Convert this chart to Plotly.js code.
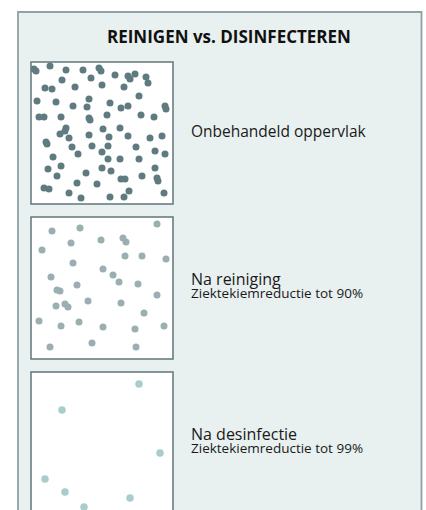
<!DOCTYPE html>
<html>
<head>
<meta charset="utf-8">
<script src="https://cdn.plot.ly/plotly-3.0.1.min.js"></script>
<style>html,body{margin:0;padding:0;background:#fff;}#chart{width:426px;height:510px;}</style>
</head>
<body>
<div id="chart"></div>
<script>
// ---- data ----
var chartTitle = "REINIGEN vs. DISINFECTEREN";
var panelTitles = ["Onbehandeld oppervlak", "Na reiniging", "Na desinfectie"];
var panelSubtitles = ["", "Ziektekiemreductie tot 90%", "Ziektekiemreductie tot 99%"];

// germ positions inside each square (0..142 units, y from top)
var untreatedX = [3,5,19,35,52,68,70,84,97,99,104,115,117,31,60,14,21,44,71,93,108,6,25,58,42,56,79,90,97,134,135,8,13,30,58,59,76,110,123,35,34,29,38,58,72,78,89,97,119,131,15,16,41,61,77,71,105,124,134,47,22,77,89,108,17,30,71,80,124,26,55,90,94,111,126,127,46,66,13,18,38,98,93,133,50,79];
var untreatedY = [7,9,4,8,8,6,9,13,14,17,12,15,21,18,16,26,27,25,23,25,34,39,40,37,44,45,41,46,44,44,47,55,55,55,56,58,53,53,55,66,69,72,76,73,67,75,66,74,76,74,80,82,85,84,84,90,85,89,92,92,95,97,97,97,107,104,106,109,106,114,111,117,117,114,116,119,121,122,126,127,131,129,135,131,136,135];

var cleanedX = [21,49,126,11,40,70,92,95,94,111,135,42,72,82,20,88,107,46,26,29,126,57,90,25,34,37,113,8,48,30,72,104,133,61,19,105];
var cleanedY = [14,11,7,33,26,23,21,25,39,39,42,46,52,58,60,65,67,68,73,74,78,84,86,89,87,90,96,104,105,109,110,112,109,126,130,130];

var disinfectedX = [108,31,129,14,34,99,53];
var disinfectedY = [12,38,81,107,120,126,135];

(function(){
  var W = 426, H = 510;
  function X(px){ return px / W; }
  function Y(py){ return 1 - py / H; }

  var boxLeft = 31, boxRight = 173, boxSize = 142;
  var boxTops = [62, 217, 372];

  var dotColors = ["#5f7b80", "#9bafb2", "#a7cdcd"];
  var dotSizes = [7, 7, 7.5];
  var xs = [untreatedX, cleanedX, disinfectedX];
  var ys = [untreatedY, cleanedY, disinfectedY];

  var traces = [];
  var layout = {
    width: W, height: H,
    margin: {l:0, r:0, t:0, b:0},
    paper_bgcolor: "#ffffff",
    plot_bgcolor: "rgba(0,0,0,0)",
    showlegend: false,
    shapes: [],
    annotations: []
  };

  layout.shapes.push({type:"rect", xref:"paper", yref:"paper", layer:"below",
    x0:X(18), x1:X(421.5), y0:Y(520), y1:Y(12),
    fillcolor:"#e8f0f0", line:{color:"#8fa2a6", width:1.8}});

  for (var i = 0; i < 3; i++) {
    var bTop = boxTops[i];
    var bBottom = Math.min(bTop + boxSize, H);
    var ax = i === 0 ? "" : String(i + 1);
    layout["xaxis" + ax] = {domain:[X(boxLeft), X(boxRight)], range:[0, boxSize],
      visible:false, fixedrange:true, anchor:"y" + ax};
    layout["yaxis" + ax] = {domain:[Y(bBottom), Y(bTop)], range:[bBottom - bTop, 0],
      visible:false, fixedrange:true, anchor:"x" + ax};
    layout.shapes.push({type:"rect", xref:"paper", yref:"paper", layer:"below",
      x0:X(boxLeft), x1:X(boxRight), y0:Y(bTop + boxSize), y1:Y(bTop),
      fillcolor:"#ffffff", line:{color:"#60767a", width:1.5}});
    traces.push({type:"scatter", mode:"markers", x:xs[i], y:ys[i],
      xaxis:"x" + ax, yaxis:"y" + ax, cliponaxis:true, hoverinfo:"skip",
      marker:{color:dotColors[i], size:dotSizes[i], line:{width:0}}});

    var mid = bTop + boxSize / 2;
    if (panelSubtitles[i]) {
      layout.annotations.push({xref:"paper", yref:"paper", x:X(189), y:Y(mid - 2.7),
        xanchor:"left", yanchor:"middle", align:"left", showarrow:false,
        text:"<span style='font-size:16px'>" + panelTitles[i] + "</span><br>" +
             "<span style='font-size:13.5px'>" + panelSubtitles[i] + "</span>",
        font:{family:"Open Sans", size:10, color:"#1a1a1a"}});
    } else {
      layout.annotations.push({xref:"paper", yref:"paper", x:X(189), y:Y(mid - 2),
        xanchor:"left", yanchor:"middle", showarrow:false, text:panelTitles[i],
        font:{family:"Open Sans", size:15.5, color:"#1a1a1a"}});
    }
  }

  layout.annotations.push({xref:"paper", yref:"paper", x:X(229), y:Y(37),
    xanchor:"center", yanchor:"middle", showarrow:false, text:"<b>" + chartTitle + "</b>",
    font:{family:"Open Sans", size:17, color:"#111111"}});

  Plotly.newPlot("chart", traces, layout, {staticPlot:true, displayModeBar:false});
})();
</script>
</body>
</html>
